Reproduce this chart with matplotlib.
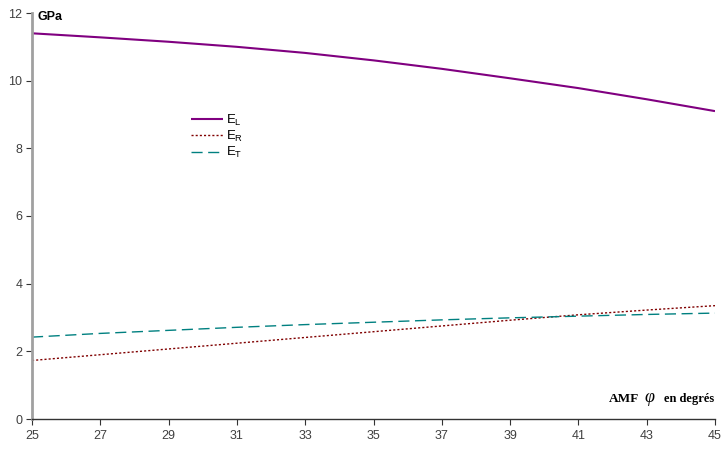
import matplotlib
matplotlib.use("Agg")
import matplotlib.pyplot as plt

plt.rcParams['font.family'] = ['Liberation Sans', 'DejaVu Sans']

angle = [25, 27, 29, 31, 33, 35, 37, 39, 41, 43, 45]
E_L = [11.40, 11.28, 11.15, 11.00, 10.82, 10.60, 10.35, 10.07, 9.78, 9.45, 9.10]
E_R = [1.73, 1.90, 2.07, 2.24, 2.41, 2.58, 2.75, 2.92, 3.08, 3.22, 3.35]
E_T = [2.42, 2.53, 2.62, 2.71, 2.79, 2.86, 2.93, 2.99, 3.04, 3.09, 3.13]
xticks = list(range(25, 46, 2))
yticks = list(range(0, 13, 2))

W, H = 727, 453
fig = plt.figure(figsize=(W/100, H/100), dpi=100)
ax = fig.add_axes([32/W, 1-419/H, (715-32)/W, (419-13)/H])

lL, = ax.plot(angle, E_L, color='#800080', lw=1.5, solid_capstyle='butt')
lR, = ax.plot(angle, E_R, color='#800000', lw=1.0, linestyle=(0, (1.5, 1.5)))
lT, = ax.plot(angle, E_T, color='#008080', lw=1.0, linestyle=(0, (8, 4)))

ax.set_xlim(25, 45)
ax.set_ylim(0, 12)
ax.set_xticks(xticks)
ax.set_yticks(yticks)
ax.tick_params(axis='both', labelsize=9, labelcolor='#404040', colors='#333333', length=4, width=0.8, direction='out')
for s in ['top', 'right']:
    ax.spines[s].set_visible(False)
ax.spines['left'].set_color('#a0a0a0')
ax.spines['left'].set_linewidth(2)
ax.spines['bottom'].set_color('#333333')
ax.spines['bottom'].set_linewidth(1)
ax.tick_params(axis='x', pad=4)
ax.tick_params(axis='y', pad=3)

leg = ax.legend([lL, lR, lT], ['E$_\\mathregular{L}$', 'E$_\\mathregular{R}$', 'E$_\\mathregular{T}$'],
                loc='upper left', bbox_to_anchor=(147/683, (419-101)/406), frameon=False,
                fontsize=9.5, handlelength=2.4, labelspacing=0.08, handletextpad=0.25)

fig.text(38/W, 1-17/H, 'GPa', fontsize=9, fontweight='bold', va='center', ha='left')
fig.text(609/W, 1-399/H, 'AMF', fontsize=9.5, fontweight='bold', family=['Liberation Serif'], va='center', ha='left')
fig.text(644/W, 1-398/H, 'φ', fontsize=13, style='italic', family=['Liberation Serif', 'DejaVu Serif'], va='center', ha='left')
fig.text(664/W, 1-399/H, 'en degrés', fontsize=9, fontweight='bold', family=['Liberation Serif'], va='center', ha='left')

fig.savefig('out.png', dpi=100)
